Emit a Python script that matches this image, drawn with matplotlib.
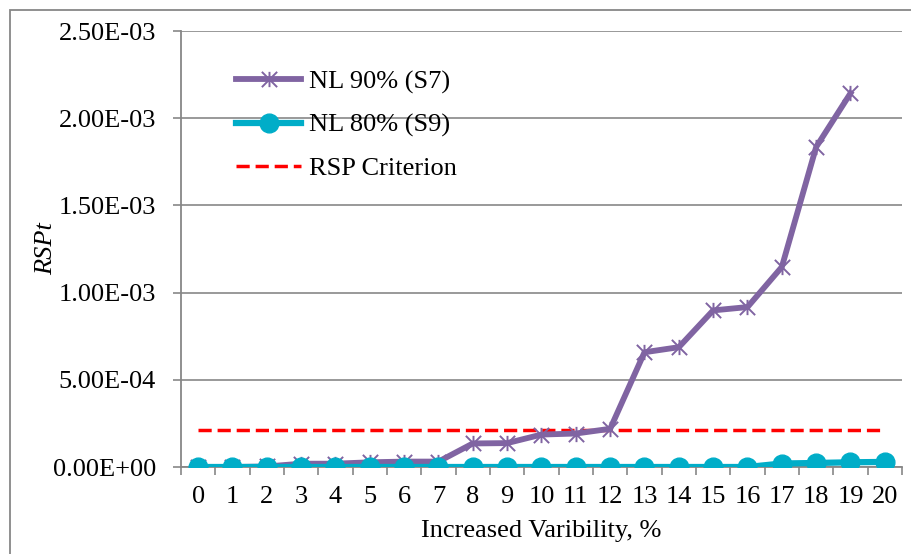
import numpy as np
import matplotlib
matplotlib.use('Agg')
import matplotlib.pyplot as plt
from matplotlib.path import Path
from matplotlib.ticker import FuncFormatter, FixedLocator
from matplotlib.patches import Rectangle

plt.rcParams['font.family'] = ['Liberation Serif', 'DejaVu Serif']

# variability steps and RSPt values
steps = list(range(21))
s7_vals = [0.0, 0.0, 0.3e-5, 1.9e-5, 1.9e-5, 2.7e-5, 3.1e-5, 3.1e-5, 1.35e-4, 1.37e-4,
           1.86e-4, 1.92e-4, 2.19e-4, 6.58e-4, 6.87e-4, 8.98e-4, 9.17e-4, 1.147e-3,
           1.835e-3, 2.143e-3]
s9_vals = [0.0, 0.0, 0.0, 0.0, 0.0, 0.0, 0.0, 0.0, 0.0, 0.0, 0.0, 0.0, 0.0, 0.0, 0.0,
           0.0, 0.0, 2.0e-5, 2.3e-5, 2.7e-5, 2.9e-5]
criterion = 2.11e-4

grey = '#878787'
purple = '#8064A2'
teal = '#00ADC8'
fs = 19

# excel style "star" marker: an x with a vertical bar
star = Path([(-1, -1), (1, 1), (-1, 1), (1, -1), (0, -1), (0, 1)],
            [Path.MOVETO, Path.LINETO, Path.MOVETO, Path.LINETO, Path.MOVETO, Path.LINETO])

fig = plt.figure(figsize=(9.12, 5.54), dpi=100)
ax = fig.add_axes([181 / 912, 1 - 467 / 554, (902 - 181) / 912, (467 - 31) / 554])

ax.plot(steps[:len(s7_vals)], s7_vals, color=purple, lw=4.2, marker=star,
        markersize=11, markeredgewidth=1.4, markeredgecolor=purple,
        label='NL 90% (S7)', zorder=3)
ax.plot(steps, s9_vals, color=teal, lw=4.5, marker='o', markersize=13.5,
        markeredgecolor=teal, label='NL 80% (S9)', zorder=4)
ax.plot(steps, [criterion] * len(steps), color='#FF0000', lw=2.5,
        dashes=(3.8, 1.7), label='RSP Criterion', zorder=2)

ax.set_xlim(-0.5, 20.5)
ax.set_ylim(0, 2.5e-3)
ax.set_yticks(np.arange(0, 2.51e-3, 5e-4))
ax.yaxis.set_major_formatter(FuncFormatter(lambda v, p: '%.2E' % v))
ax.set_xticks(steps)
ax.xaxis.set_minor_locator(FixedLocator(np.arange(-0.5, 21, 1)))
ax.tick_params(axis='x', which='major', length=0, pad=14, labelsize=fs)
ax.tick_params(axis='x', which='minor', length=6, width=1.2, color=grey)
ax.tick_params(axis='y', length=6, width=1.2, color=grey, pad=12, labelsize=fs)

ax.grid(axis='y', color=grey, lw=1.2)
ax.set_axisbelow(True)
for side in ['top', 'right']:
    ax.spines[side].set_visible(False)
for side in ['left', 'bottom']:
    ax.spines[side].set_color(grey)
    ax.spines[side].set_linewidth(1.3)

ax.set_xlabel('Increased Varibility, %', fontsize=fs, labelpad=8)
ax.set_ylabel('RSPt', fontsize=fs, style='italic')
ax.yaxis.set_label_coords(-0.172, 0.5)

ax.legend(loc='upper left', bbox_to_anchor=(0.044, 0.965), frameon=False,
          fontsize=fs, handlelength=2.45, handletextpad=0.3, labelspacing=0.74)

# outer chart border
fig.patches.append(Rectangle((10 / 912, -0.1), 1.2, (544 / 554) + 0.1,
                             transform=fig.transFigure, fill=False,
                             edgecolor=grey, lw=1.3))

fig.savefig('out.png', dpi=100)
